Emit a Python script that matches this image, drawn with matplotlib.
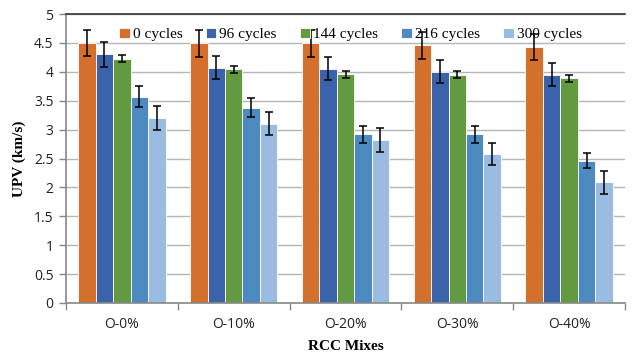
import numpy as np
import matplotlib.pyplot as plt

mixes = ["O-0%", "O-10%", "O-20%", "O-30%", "O-40%"]
cycles = ["0 cycles", "96 cycles", "144 cycles", "216 cycles", "300 cycles"]

# UPV (km/s) per mix, one list per freeze-thaw cycle count
upv_0 = [4.50, 4.49, 4.49, 4.46, 4.43]
upv_96 = [4.30, 4.07, 4.05, 4.00, 3.95]
upv_144 = [4.23, 4.04, 3.96, 3.95, 3.89]
upv_216 = [3.57, 3.38, 2.92, 2.92, 2.46]
upv_300 = [3.20, 3.10, 2.82, 2.58, 2.09]

err_0 = [0.23, 0.23, 0.23, 0.23, 0.22]
err_96 = [0.21, 0.20, 0.20, 0.20, 0.20]
err_144 = [0.065, 0.06, 0.06, 0.06, 0.06]
err_216 = [0.18, 0.17, 0.15, 0.15, 0.13]
err_300 = [0.20, 0.20, 0.20, 0.19, 0.20]

values = [upv_0, upv_96, upv_144, upv_216, upv_300]
errors = [err_0, err_96, err_144, err_216, err_300]
colors = ["#D4702B", "#3B63AC", "#639A3F", "#4C8AC1", "#9BBCE1"]

fig = plt.figure(figsize=(6.34, 3.53), dpi=100)
ax = fig.add_axes([66 / 634, 1 - 303 / 353, 559 / 634, 289 / 353])

x = np.arange(len(mixes))
w = 0.156
for i, (vals, errs) in enumerate(zip(values, errors)):
    pos = x + (i - 2) * w
    ax.bar(pos, vals, width=w, color=colors[i], edgecolor="white",
           linewidth=0.6, label=cycles[i], zorder=2)
    ax.errorbar(pos, vals, yerr=errs, fmt="none", ecolor="black",
                elinewidth=1.1, capsize=3, capthick=1.1, zorder=3)

ax.set_xlim(-0.5, len(mixes) - 0.5)
ax.set_ylim(0, 5)
ax.set_yticks(np.arange(0, 5.01, 0.5))
ax.set_yticklabels(["0", "0.5", "1", "1.5", "2", "2.5", "3", "3.5", "4", "4.5", "5"])
ax.yaxis.grid(True, color="#B5B5B5", linewidth=1, zorder=0)
ax.set_axisbelow(True)

ax.set_xticks(x)
ax.set_xticklabels(mixes)
ax.set_xticks(np.arange(-0.5, len(mixes)), minor=True)
ax.tick_params(axis="x", which="major", length=0, pad=10)
ax.tick_params(axis="x", which="minor", length=5, color="#888888", width=1)
ax.tick_params(axis="y", length=5, color="#888888", width=1, pad=4)
for lab in ax.get_xticklabels() + ax.get_yticklabels():
    lab.set_family("Open Sans")
    lab.set_fontsize(10)
    lab.set_color("#222222")

for s in ["left", "bottom"]:
    ax.spines[s].set_color("#888888")
    ax.spines[s].set_linewidth(1.2)
ax.spines["top"].set_color("#333333")
ax.spines["top"].set_linewidth(1.2)
ax.spines["right"].set_visible(False)

ax.set_xlabel("RCC Mixes", family="Liberation Serif", fontweight="bold",
              fontsize=11, labelpad=6)
ax.set_ylabel("UPV (km/s)", family="Liberation Serif", fontweight="bold",
              fontsize=11, labelpad=6)

ax.legend(loc="upper center", bbox_to_anchor=(0.509, 1.0), ncol=5,
          frameon=False, prop={"family": "Liberation Serif", "size": 11},
          handlelength=0.7, handleheight=0.7, handletextpad=0.2,
          columnspacing=1.5, borderaxespad=0.5)

fig.savefig("out.png", dpi=100)
